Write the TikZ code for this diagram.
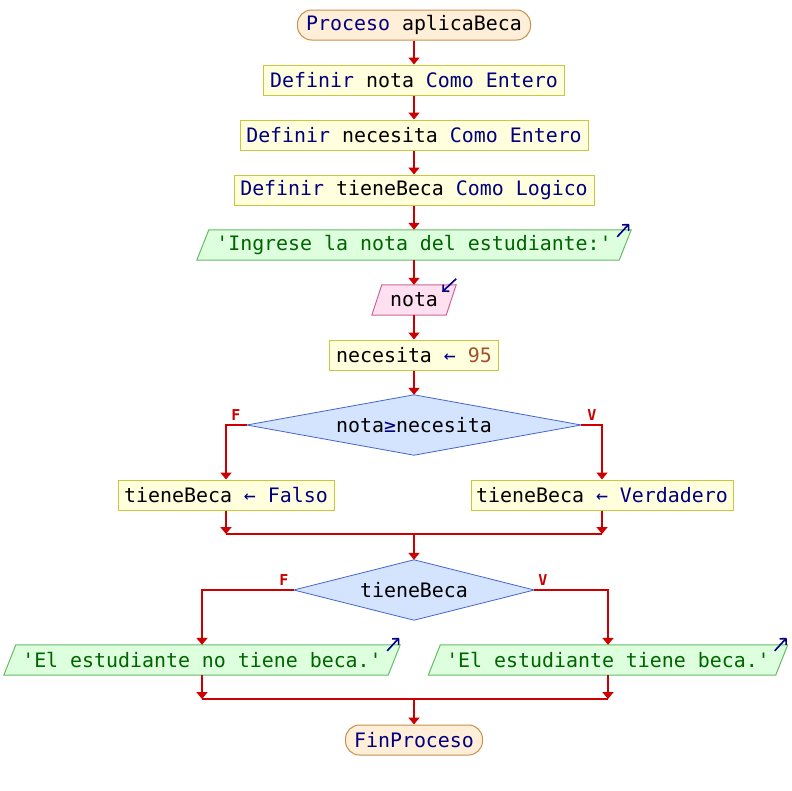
\documentclass[tikz,border=0pt]{standalone}
\usepackage{fontspec}
\setmonofont{DejaVu Sans Mono}
\usetikzlibrary{arrows.meta,backgrounds,calc}
\definecolor{kw}{HTML}{000080}
\definecolor{num}{HTML}{A0522D}
\definecolor{ln}{HTML}{CC0000}
\definecolor{procfill}{HTML}{FFEED8}
\definecolor{procdraw}{HTML}{C8904A}
\definecolor{asgfill}{HTML}{FFFFDD}
\definecolor{asgdraw}{HTML}{C8C83C}
\definecolor{outfill}{HTML}{DDFFDD}
\definecolor{outdraw}{HTML}{66BB66}
\definecolor{outtext}{HTML}{006400}
\definecolor{infill}{HTML}{FFE0F0}
\definecolor{indraw}{HTML}{CC6699}
\definecolor{decfill}{HTML}{D4E4FF}
\definecolor{decdraw}{HTML}{4466CC}
\tikzset{
  base/.style={font=\ttfamily\fontsize{19.9}{24}\selectfont, inner sep=0pt, minimum height=30pt, anchor=center},
  term/.style={base, draw=procdraw, fill=procfill, rounded corners=14pt, line width=1pt},
  asg/.style={base, draw=asgdraw, fill=asgfill, line width=1pt},
  plain/.style={base},
  decnode/.style={base, minimum height=60pt},
  outshape/.style={draw=outdraw, fill=outfill, line width=1pt},
  inshape/.style={draw=indraw, fill=infill, line width=1pt},
  decshape/.style={draw=decdraw, fill=decfill, line width=0.8pt},
  flow/.style={draw=ln, line width=2.2pt, -{Triangle[length=7pt,width=11pt]}},
  flowline/.style={draw=ln, line width=2.2pt},
  iconarrow/.style={draw=kw, line width=1.6pt, -{Straight Barb[length=4.5pt,width=9pt]}},
  tflabel/.style={font=\ttfamily\bfseries\fontsize{15}{15}\selectfont, text=ln, inner sep=0pt}
}
\begin{document}
\begin{tikzpicture}[x=1pt,y=-1pt]
\useasboundingbox (0,0) rectangle (792,790);

\node[term, minimum width=233pt] (start) at (414,25) {{\color{kw}Proceso} aplicaBeca};
\node[asg, minimum width=301pt] (d1) at (414,80) {{\color{kw}Definir} nota {\color{kw}Como Entero}};
\node[asg, minimum width=348pt] (d2) at (414,135) {{\color{kw}Definir} necesita {\color{kw}Como Entero}};
\node[asg, minimum width=360pt] (d3) at (414,190) {{\color{kw}Definir} tieneBeca {\color{kw}Como Logico}};
\node[plain, minimum width=422pt] (out1) at (414,245) {\color{outtext}'Ingrese la nota del estudiante:'};
\node[plain, minimum width=74pt] (in1) at (414,300) {nota};
\node[asg, minimum width=169pt] (a1) at (414,355) {necesita {\color{kw}←} {\color{num}95}};
\node[decnode, minimum width=334pt] (dec1) at (414,425) {nota{\color{kw}≥}necesita};
\node[asg, minimum width=216pt] (fb) at (226,495) {tieneBeca {\color{kw}← Falso}};
\node[asg, minimum width=262pt] (tb) at (602,495) {tieneBeca {\color{kw}← Verdadero}};
\coordinate (m1) at (414,534);
\node[decnode, minimum width=240pt] (dec2) at (414,590) {tieneBeca};
\node[plain, minimum width=384pt] (outno) at (202,660) {\color{outtext}'El estudiante no tiene beca.'};
\node[plain, minimum width=347pt] (outsi) at (608,660) {\color{outtext}'El estudiante tiene beca.'};
\coordinate (m2) at (414,699);
\node[term, minimum width=137pt] (fin) at (414,740) {\color{kw}FinProceso};

\begin{scope}[on background layer]
  \fill[white] (0,0) rectangle (792,790);
  \path[outshape] ($(out1.south west)+(-6,0)$) -- ($(out1.south east)+(-6,0)$) -- ($(out1.north east)+(6,0)$) -- ($(out1.north west)+(6,0)$) -- cycle;
  \path[inshape] ($(in1.south west)+(-5,0)$) -- ($(in1.south east)+(-5,0)$) -- ($(in1.north east)+(5,0)$) -- ($(in1.north west)+(5,0)$) -- cycle;
  \path[outshape] ($(outno.south west)+(-6,0)$) -- ($(outno.south east)+(-6,0)$) -- ($(outno.north east)+(6,0)$) -- ($(outno.north west)+(6,0)$) -- cycle;
  \path[outshape] ($(outsi.south west)+(-6,0)$) -- ($(outsi.south east)+(-6,0)$) -- ($(outsi.north east)+(6,0)$) -- ($(outsi.north west)+(6,0)$) -- cycle;
  \path[decshape] (dec1.west) -- (dec1.north) -- (dec1.east) -- (dec1.south) -- cycle;
  \path[decshape] (dec2.west) -- (dec2.north) -- (dec2.east) -- (dec2.south) -- cycle;
\end{scope}

% icons
\draw[iconarrow] ($(out1.north east)+(6,0)+(-14,7)$) -- ($(out1.north east)+(6,0)+(-2,-6)$);
\draw[iconarrow] ($(in1.north east)+(5,0)+(0,-6)$) -- ($(in1.north east)+(5,0)+(-14,7)$);
\draw[iconarrow] ($(outno.north east)+(6,0)+(-13,6)$) -- ($(outno.north east)+(6,0)+(-1,-7)$);
\draw[iconarrow] ($(outsi.north east)+(6,0)+(-13,6)$) -- ($(outsi.north east)+(6,0)+(-1,-7)$);

% flow
\draw[flow] (start.south) -- (d1.north);
\draw[flow] (d1.south) -- (d2.north);
\draw[flow] (d2.south) -- (d3.north);
\draw[flow] (d3.south) -- (out1.north);
\draw[flow] (out1.south) -- (in1.north);
\draw[flow] (in1.south) -- (a1.north);
\draw[flow] (a1.south) -- (dec1.north);
\draw[flow] (dec1.west) -| (fb.north);
\draw[flow] (dec1.east) -| (tb.north);
\node[tflabel] (f1) at (236,415) {F};
\node[tflabel] (v1) at (592,415) {V};
\draw[flow] (fb.south) -- (fb.south |- m1);
\draw[flow] (tb.south) -- (tb.south |- m1);
\draw[flowline] (fb.south |- m1) -- (tb.south |- m1);
\draw[flow] (m1) -- (dec2.north);
\draw[flow] (dec2.west) -| (outno.north);
\draw[flow] (dec2.east) -| (outsi.north);
\node[tflabel] (f2) at (284,580) {F};
\node[tflabel] (v2) at (543,580) {V};
\draw[flow] (outno.south) -- (outno.south |- m2);
\draw[flow] (outsi.south) -- (outsi.south |- m2);
\draw[flowline] (outno.south |- m2) -- (outsi.south |- m2);
\draw[flow] (m2) -- (fin.north);
\end{tikzpicture}
\end{document}
